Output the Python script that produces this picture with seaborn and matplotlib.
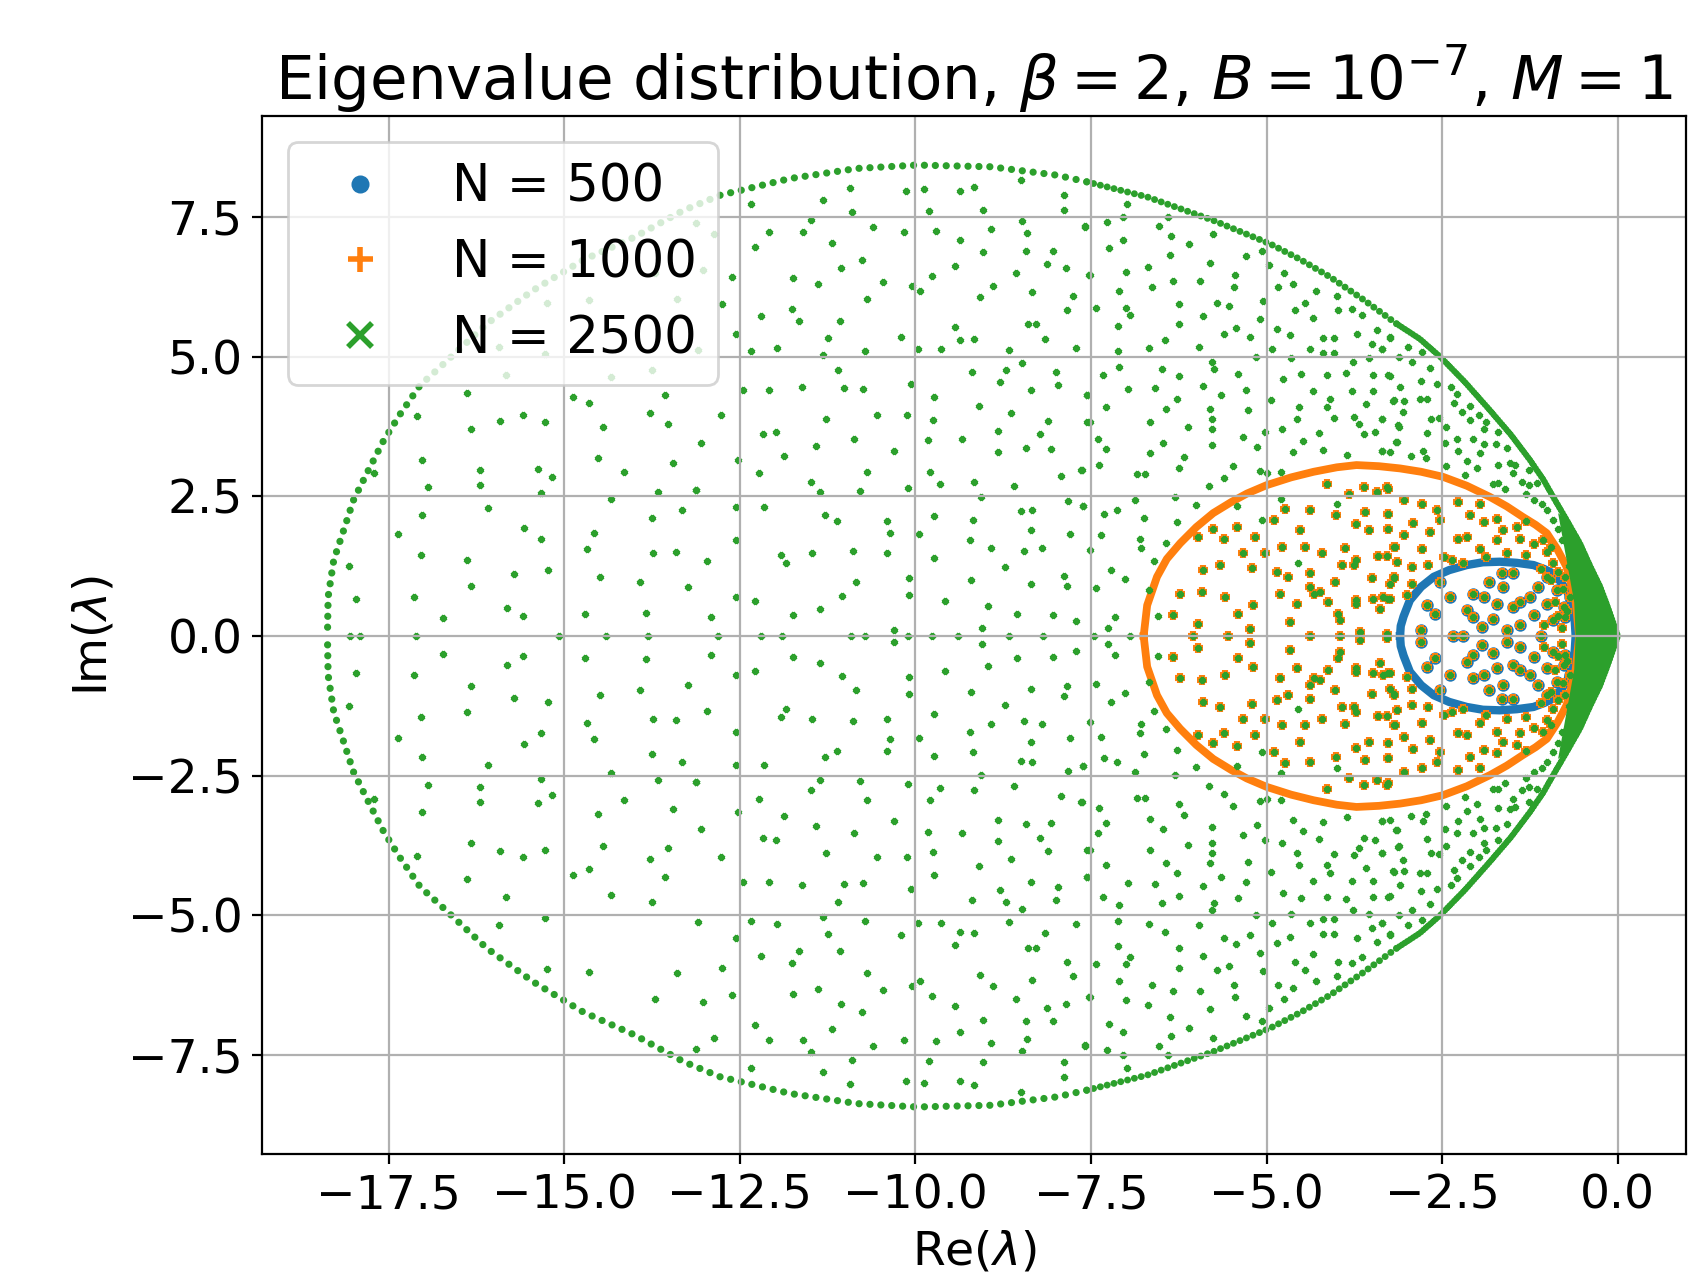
import numpy as np
import matplotlib
matplotlib.use("Agg")
import matplotlib.pyplot as plt
from matplotlib.lines import Line2D
import seaborn as sns

BLUE, ORANGE, GREEN = "#1f77b4", "#ff7f0e", "#2ca02c"

# Eigenvalues, upper half plane only (Im > 0);
# the spectrum is symmetric, the lower half is the complex conjugate.

# outer rim of N = 2500, split by how tightly packed the eigenvalues are
green_rim_far_re = [-7.56, -7.99, -8.93, -9.98, -10.83, -11.78, -12.78,
                    -13.30, -14.00, -14.73, -15.44, -16.10, -16.76, -17.05, -17.33, -17.57,
                    -17.81, -18.00, -18.14, -18.28, -18.36, -18.37]
green_rim_far_im = [8.13, 8.25, 8.40, 8.43, 8.37, 8.19, 7.89,
                    7.62, 7.14, 6.73, 6.19, 5.59, 4.82, 4.49, 3.98, 3.50,
                    2.91, 2.43, 1.89, 1.36, 0.70, 0.0]
green_rim_mid_re = [-3.15, -3.62, -4.10, -4.52, -4.95, -5.76, -6.70, -7.56]
green_rim_mid_im = [5.59, 6.02, 6.43, 6.74, 7.02, 7.44, 7.86, 8.13]
green_rim_near_re = [-3.15, -2.82, -2.53, -2.18, -1.82, -1.52,
                     -1.25, -1.06, -0.92, -0.73, -0.54, -0.40, -0.25, -0.12, 0.0]
green_rim_near_im = [5.59, 5.32, 5.00, 4.55, 4.04, 3.60,
                     3.15, 2.80, 2.49, 2.08, 1.66, 1.27, 0.88, 0.44, 0.0]
# solid cluster next to the origin
wedge_outer_re = [-0.85, -0.73, -0.54, -0.25, 0.0]
wedge_outer_im = [2.20, 2.08, 1.66, 0.88, 0.0]
wedge_inner_re = [-0.85, -0.72, -0.62, -0.60]
wedge_inner_im = [2.20, 1.30, 0.60, 0.0]

orange_rim_re = [-6.75, -6.70, -6.56, -6.42, -6.23, -6.00, -5.76, -5.50, -5.28, -5.00,
                 -4.65, -4.33, -4.00, -3.72, -3.40, -3.10, -2.80, -2.49, -2.15, -1.82,
                 -1.58, -1.35, -1.17, -1.01, -0.86, -0.73, -0.60, -0.55]
orange_rim_im = [0.0, 0.55, 1.06, 1.38, 1.66, 1.95, 2.20, 2.40, 2.55, 2.70,
                 2.84, 2.94, 3.02, 3.06, 3.04, 3.00, 2.94, 2.85, 2.69, 2.49,
                 2.32, 2.13, 1.99, 1.84, 1.55, 1.24, 0.60, 0.0]

blue_rim_re = [-3.10, -3.09, -3.05, -2.96, -2.80, -2.62, -2.40, -2.15, -1.92, -1.68,
               -1.44, -1.20, -1.05, -0.92, -0.82, -0.73, -0.66, -0.62, -0.60]
blue_rim_im = [0.0, 0.18, 0.35, 0.64, 0.88, 1.06, 1.18, 1.27, 1.32, 1.33,
               1.31, 1.27, 1.20, 1.12, 0.98, 0.82, 0.62, 0.40, 0.0]

# interior eigenvalues only present for N = 2500
green_re = [
    -16.38, -17.09, -16.33, -15.92, -15.59, -15.27, -14.88, -14.64, -14.45, -13.78, -13.56, -13.52,
    -17.03, -16.20, -15.37, -15.17, -16.94, -16.20, -15.33, -14.52, -14.15, -13.45, -13.67, -13.12,
    -14.33, -16.08, -17.03, -17.36, -15.57, -15.33, -14.58, -14.67, -13.75, -13.32, -17.04, -16.39,
    -15.72, -15.23, -18.06, -14.49, -13.74, -13.41, -16.33, -13.92, -13.24, -17.96, -17.14, -16.73,
    -15.81, -15.59, -14.71, -13.84, -15.24, -14.65, -13.40, -13.10, -13.75, -14.34, -15.83, -15.27,
    -12.87, -13.13, -13.70, -13.03, -15.93, -17.70,
    -12.34, -11.31, -10.93, -10.90, -10.13, -9.88, -9.81, -9.36, -9.17, -9.04, -8.49, -7.88, -7.89,
    -11.49, -12.08, -11.60, -10.60, -10.16, -9.71, -8.92, -8.48, -8.41, -7.59, -12.28, -11.18, -9.36,
    -9.04, -8.43, -8.04, -10.76, -11.06, -9.43, -8.13, -7.86, -12.61, -11.74, -11.38, -10.46, -10.05,
    -9.94, -9.76, -8.57, -8.89, -9.08, -8.34, -7.76, -7.84, -7.53, -12.75, -12.20, -11.75, -11.66,
    -11.08, -10.69, -11.24, -10.21, -9.43, -9.36, -9.16, -8.39, -8.28, -8.15, -7.72, -12.56, -12.34,
    -11.97, -11.32, -10.71, -9.96, -9.63, -8.67, -11.10, -12.45, -12.08, -11.62, -11.01, -10.75,
    -10.06, -9.20, -8.71, -8.48, -8.80, -8.00, -7.97, -8.36, -7.56, -9.74, -12.76, -11.27, -10.54,
    -10.12, -9.75, -9.09, -8.64, -8.11, -7.56, -13.05, -12.17, -11.98, -11.42, -10.88, -10.31, -9.82,
    -9.34, -8.82, -8.82, -8.23, -8.43, -8.07, -11.87, -12.53, -12.22, -11.48, -11.36, -10.79, -10.69,
    -10.11, -9.79, -9.65, -9.17, -8.60, -7.92, -7.64, -13.12, -9.06, -12.55, -12.15, -11.28, -11.12,
    -10.40, -10.36, -9.95, -9.73, -9.18, -8.49, -8.34, -7.83, -7.62, -8.36, -7.80, -12.56, -12.97,
    -11.91, -11.84, -11.47, -10.89, -10.41, -9.74, -9.22, -8.93, -8.46, -8.20, -8.73, -10.85, -10.09,
    -9.21, -8.36, -7.88, -7.84, -12.56, -12.28, -11.74, -11.36, -11.04, -10.09, -9.58, -8.97, -8.56,
    -8.04, -7.72, -12.91, -10.30, -9.05,
    -6.98, -7.04, -7.58, -7.27, -6.40, -6.53, -6.36, -7.05, -7.24, -6.11, -5.76, -6.37, -5.30, -5.06,
    -4.97, -5.80, -6.69, -7.51, -7.00, -6.33, -5.95, -5.45, -5.46, -4.75, -4.62, -4.84, -4.30, -4.00,
    -6.63, -7.10, -7.43, -7.00, -6.94, -6.25, -5.71, -5.53, -5.05, -4.45, -4.60, -3.98, -3.79, -3.64,
    -4.34, -5.90, -5.09, -7.11, -6.25, -5.43, -5.61, -5.24, -4.85, -4.66, -4.19, -4.04, -3.71, -3.43,
    -3.25, -3.50, -3.36, -6.45, -6.67, -7.11, -5.96, -4.92, -4.38, -4.20, -4.04, -5.15, -4.65, -3.54,
    -5.78, -5.75, -6.49, -7.10, -7.33, -6.24, -5.40, -4.77, -4.51, -4.14, -3.87, -3.77, -3.48, -3.25,
    -6.97, -6.59, -5.90, -5.30, -5.65, -6.28, -4.94, -4.34, -4.09, -3.79, -3.48, -3.20, -3.58, -4.14,
    -4.54, -7.55, -7.28, -6.43, -5.80, -5.77, -5.26, -4.56, -4.04, -3.75, -3.36, -3.68, -7.51, -6.66,
    -6.12, -5.78, -4.78, -4.25, -3.62, -3.46, -3.13, -5.02, -7.40, -7.29, -6.48, -5.78, -5.33, -5.13,
    -4.48, -4.62, -4.19, -3.86, -3.35, -3.24, -3.16, -6.66, -6.17, -6.25, -5.48, -7.38, -7.63, -6.85,
    -6.73, -5.60, -5.10, -4.99, -4.80, -5.82, -6.30, -6.87, -6.00, -7.61, -7.32, -7.13, -6.74, -6.28,
    -7.36, -6.80, -6.79, -6.43, -6.60, -7.51, -7.22, -7.01, -7.43, -6.67, -6.55, -7.16, -7.26,
    -5.42, -5.07, -4.79, -4.00, -4.55,
    -3.24, -3.36, -2.98, -2.79, -3.12, -2.93, -2.67, -3.27, -2.80, -2.57, -3.10, -2.38, -2.29, -3.19,
    -3.04, -2.82, -2.71, -2.33, -2.10, -3.06, -2.22, -1.98, -3.36, -2.66, -2.55, -2.10, -1.88, -3.11,
    -2.44, -1.91, -2.71, -1.70, -2.29, -2.06, -2.46, -3.15, -1.91, -1.73, -3.35, -2.77, -2.27, -1.96,
    -1.58, -2.95, -2.73, -2.14, -1.71, -1.53, -1.46, -2.44, -2.00, -1.49, -1.27, -2.17, -1.77, -1.70,
    -1.61, -1.37, -1.27, -1.15, -1.30, -1.20, -1.08, -1.01, -0.92, -0.85, -0.80,
]
green_im = [
    4.35, 3.94, 3.70, 3.84, 3.95, 3.83, 4.27, 4.17, 3.75, 3.99, 4.31, 3.79,
    3.15, 2.97, 2.99, 2.84, 2.66, 2.70, 2.56, 3.19, 2.94, 3.10, 2.57, 2.62,
    2.45, 2.30, 2.16, 1.83, 1.93, 1.74, 1.85, 1.56, 2.11, 2.26, 1.45, 1.36,
    1.11, 1.18, 1.25, 1.06, 1.48, 1.51, 0.90, 0.96, 0.88, 0.67, 0.69, 0.33,
    0.51, 0.35, 0.40, 0.41, 5.96, 6.02, 6.04, 5.12, 4.77, 4.64, 4.67, 5.04,
    7.20, 7.39, 6.49, 6.56, 5.18, 2.92,
    7.74, 7.81, 8.02, 7.59, 7.97, 8.00, 7.60, 7.96, 8.04, 7.63, 8.16, 7.89, 7.62,
    7.44, 7.23, 7.23, 7.33, 7.23, 7.25, 7.29, 7.43, 7.22, 7.34, 6.97, 7.03, 7.08,
    6.88, 6.90, 6.89, 6.73, 6.59, 6.63, 6.66, 6.59, 6.43, 6.40, 6.31, 6.34, 6.26,
    6.18, 6.44, 6.49, 6.26, 6.07, 6.15, 6.08, 5.84, 6.47, 5.94, 5.72, 5.85, 5.63,
    5.63, 6.03, 5.33, 5.35, 5.53, 5.30, 5.32, 5.59, 5.58, 5.32, 5.16, 5.40, 5.10,
    5.15, 5.03, 5.10, 5.14, 5.14, 5.12, 4.76, 4.40, 4.40, 4.45, 4.44, 4.43,
    4.52, 4.73, 4.77, 4.89, 4.55, 4.72, 4.50, 4.40, 4.32, 4.27, 3.96, 3.89, 3.95,
    3.95, 3.87, 4.11, 3.99, 3.85, 3.83, 3.46, 3.62, 3.65, 3.40, 3.52, 3.32, 3.51,
    3.53, 3.67, 3.30, 3.62, 3.36, 3.34, 3.23, 3.15, 2.91, 2.75, 2.57, 2.59, 2.94,
    2.65, 2.94, 2.72, 2.75, 2.68, 2.87, 2.97, 2.61, 2.49, 2.31, 2.31, 2.16, 2.05,
    2.05, 1.85, 1.82, 2.14, 2.07, 2.23, 2.26, 2.42, 2.32, 1.89, 1.83, 1.71, 1.35,
    1.45, 1.30, 1.49, 1.52, 1.48, 1.40, 1.71, 1.58, 1.52, 1.58, 1.23, 0.97, 1.04,
    1.00, 0.94, 1.08, 0.89, 0.70, 0.63, 0.38, 0.48, 0.71, 0.74, 0.63, 0.53, 0.40,
    0.38, 0.26, 0.34, 0.10, 0.15,
    7.73, 7.50, 7.32, 7.41, 7.50, 7.34, 7.16, 7.08, 6.95, 7.01, 7.20, 6.82, 6.80, 6.89,
    6.65, 6.67, 6.61, 6.47, 6.51, 6.36, 6.36, 6.47, 6.25, 6.49, 6.30, 6.25, 6.18, 6.08,
    6.24, 6.18, 5.87, 5.87, 5.75, 5.95, 5.97, 5.90, 6.00, 5.97, 5.83, 5.83, 5.85, 5.75,
    5.69, 5.72, 5.67, 5.55, 5.59, 5.52, 5.40, 5.35, 5.49, 5.39, 5.34, 5.34, 5.41, 5.47,
    5.34, 5.22, 5.14, 5.30, 5.15, 5.10, 5.17, 5.13, 5.14, 5.07, 5.06, 4.99, 4.97, 4.98,
    4.90, 4.78, 4.78, 4.81, 4.67, 4.66, 4.69, 4.60, 4.69, 4.67, 4.70, 4.90, 4.68, 4.66,
    4.42, 4.44, 4.48, 4.41, 4.32, 4.24, 4.23, 4.38, 4.24, 4.39, 4.38, 4.21, 4.15, 4.10,
    4.10, 4.32, 4.10, 4.06, 4.07, 3.89, 4.04, 3.89, 3.91, 3.92, 3.89, 3.79, 3.83, 3.83,
    3.74, 3.70, 3.71, 3.64, 3.62, 3.65, 3.77, 3.65, 3.52, 3.35, 3.46, 3.42, 3.57, 3.39,
    3.49, 3.29, 3.33, 3.24, 3.32, 3.30, 3.48, 3.28, 3.21, 3.00, 3.05, 3.07, 2.97, 2.90,
    2.90, 2.83, 2.96, 2.91, 2.93, 2.68, 2.49, 2.43, 2.34, 2.32, 2.19, 2.26, 2.11, 2.04,
    1.80, 1.73, 1.58, 1.67, 1.35, 1.54, 1.19, 1.02, 0.86, 0.83, 0.36, 0.34, 0.14,
    2.33, 2.07, 2.46, 2.37, 1.30,
    5.35, 5.14, 5.17, 5.08, 4.99, 4.91, 4.79, 4.67, 4.56, 4.52, 4.46, 4.45, 4.34, 4.22,
    4.21, 4.24, 4.24, 4.18, 4.11, 4.01, 4.01, 3.95, 3.89, 3.88, 3.91, 3.87, 3.83, 3.75,
    3.75, 3.71, 3.63, 3.65, 3.52, 3.52, 3.46, 3.47, 3.44, 3.44, 3.32, 3.32, 3.31, 3.28,
    3.36, 3.22, 3.18, 3.13, 3.07, 3.09, 3.06, 3.04, 3.01, 2.91, 2.97, 2.88, 2.73, 2.74,
    2.64, 2.76, 2.70, 2.74, 2.55, 2.43, 2.37, 2.25, 2.07, 1.92, 1.71,
]

# interior eigenvalues shared by N = 1000 and N = 2500
shared_re = [
    -5.97, -5.76, -5.61, -5.42, -5.16, -5.02, -5.33, -5.21, -4.90, -4.74, -4.78, -4.52, -4.45, -4.38,
    -4.21, -4.01, -3.88, -3.93, -3.72, -3.72, -3.60, -3.54, -3.41, -3.27, -3.27, -3.19, -3.19, -3.83,
    -3.61, -3.43, -3.27, -4.14, -4.85, -4.69, -5.90, -5.66, -6.23, -5.92, -5.59, -5.40, -5.19, -4.81,
    -4.57, -4.38, -4.24, -4.12, -3.72, -3.48, -3.38, -3.27, -4.67, -3.95, -5.97, -5.23, -6.33,
    -3.29, -3.05, -2.79, -2.58, -2.27, -1.96, -3.27, -2.91, -2.67, -2.53, -2.10, -1.91, -1.72, -1.63,
    -1.44, -1.30, -3.05, -2.27, -2.15, -1.96, -1.72, -1.39, -1.20, -1.06, -3.29, -3.17, -2.79, -2.48,
    -2.70, -2.93, -2.36, -2.20, -1.87, -1.58, -1.30, -1.01, -0.92, -3.19, -2.93, -3.24, -3.00,
    -3.67, -3.29, -4.33, -3.98, -3.72, -3.34, -3.50, -3.24, -4.38, -4.02, -3.76, -3.15,
    -0.95, -0.85, -0.90, -0.80, -1.05, -1.10, -0.95, -0.75, -0.72, -0.70, -0.78, -0.85, -0.68,
]
shared_im = [
    1.77, 1.92, 1.74, 1.96, 1.77, 1.48, 1.48, 1.21, 2.07, 2.28, 1.60, 1.89, 1.60, 2.25,
    1.48, 2.16, 1.57, 1.27, 2.01, 1.36, 2.22, 1.89, 1.44, 2.19, 1.92, 1.60, 1.03, 2.55,
    2.66, 2.58, 2.64, 2.73, 1.15, 1.06, 1.18, 1.27, 0.76, 0.79, 0.70, 0.40, 0.55, 0.76,
    0.57, 0.88, 0.79, 0.61, 0.64, 0.67, 0.49, 0.67, 0.25, 0.28, 0.22, 0.13, 0.37,
    2.67, 2.43, 2.36, 2.25, 2.40, 2.36, 2.19, 2.02, 1.86, 2.07, 2.16, 2.04, 2.10, 1.89,
    1.95, 2.05, 1.80, 1.74, 1.77, 1.56, 1.71, 1.74, 1.65, 1.71, 1.44, 1.59, 1.55, 1.42,
    1.27, 1.24, 1.36, 1.30, 1.42, 1.48, 1.45, 1.51, 1.30, 1.06, 0.94, 0.67, 0.73,
    0.07, 0.04, 0.76, 0.40, 0.58, 0.70, 1.03, 0.94, 1.12, 0.97, 1.27, 1.33,
    1.00, 1.15, 0.60, 0.15, 0.20, 1.20, 1.60, 1.05, 0.45, 1.25, 0.85, 0.35, 1.60,
]

# interior eigenvalues shared by all three sizes
blue_re = [-2.80, -2.72, -2.60, -2.39, -2.15, -2.06, -1.91, -1.94, -1.84, -1.72, -1.77, -1.65,
           -1.63, -1.49, -1.49, -1.58, -1.39, -1.39, -1.25, -1.20, -1.13, -1.01, -1.01, -0.92,
           -0.87, -0.77, -0.75, -0.68, -2.06, -2.53]
blue_im = [0.10, 0.55, 0.40, 0.70, 0.46, 0.34, 0.70, 0.16, 0.97, 0.58, 0.31, 1.12,
           0.88, 1.12, 0.52, 0.10, 0.61, 0.19, 0.70, 0.37, 0.88, 1.06, 0.58, 0.28,
           0.82, 0.52, 0.34, 0.70, 0.76, 0.97]

# purely real eigenvalues
green_axis_re = [-18.05, -17.90, -17.11, -15.08, -14.41, -13.81, -12.81, -12.20, -11.90, -10.91,
                 -10.72, -10.10, -9.76, -9.40, -8.67, -8.19, -7.45, -6.95]
shared_axis_re = [-6.05, -5.55, -4.38, -3.95]
blue_axis_re = [-2.34, -2.20, -1.10]

labels = ["N = 500", "N = 1000", "N = 2500"]


def conj(re, im):
    re, im = np.asarray(re, float), np.asarray(im, float)
    return np.concatenate([re, re]), np.concatenate([im, -im])


def closed(re, im):
    # upper half as given, then back along the mirrored lower half
    re, im = np.asarray(re, float), np.asarray(im, float)
    return np.concatenate([re, re[::-1]]), np.concatenate([im, -im[::-1]])


def with_axis(re, im, axis_re):
    return (np.concatenate([re, axis_re]),
            np.concatenate([im, np.zeros(len(axis_re))]))


def rim(ax, re, im, **kw):
    # the upper arc and its mirror image, as two separate lines
    for sign in (1, -1):
        sns.lineplot(x=re, y=sign * np.asarray(im, float), sort=False, estimator=None,
                     ax=ax, **kw)


b_re, b_im = with_axis(*conj(blue_re, blue_im), blue_axis_re)
s_re, s_im = with_axis(*conj(shared_re, shared_im), shared_axis_re)
g_re, g_im = with_axis(*conj(green_re, green_im), green_axis_re)

orange_re = np.concatenate([b_re, s_re])
orange_im = np.concatenate([b_im, s_im])
green_all_re = np.concatenate([b_re, s_re, g_re])
green_all_im = np.concatenate([b_im, s_im, g_im])

fig = plt.figure(figsize=(1691 / 200, 1287 / 200), dpi=200)
ax = fig.add_axes([0.155, 0.103, 0.842, 0.8065])

# N = 500
x, y = closed(blue_rim_re, blue_rim_im)
sns.lineplot(x=x, y=y, sort=False, estimator=None, color=BLUE, linewidth=3.0,
             zorder=1.0, ax=ax)
sns.scatterplot(x=b_re, y=b_im, marker="o", s=20, color=BLUE, linewidth=0,
                zorder=1.0, legend=False, ax=ax)

# N = 1000
x, y = closed(orange_rim_re, orange_rim_im)
sns.lineplot(x=x, y=y, sort=False, estimator=None, color=ORANGE, linewidth=2.8,
             zorder=1.1, ax=ax)
sns.scatterplot(x=orange_re, y=orange_im, marker="+", s=12, color=ORANGE, linewidth=2.2,
                zorder=1.1, legend=False, ax=ax)

# N = 2500
rim(ax, green_rim_far_re, green_rim_far_im, color=GREEN, linewidth=2.6,
    linestyle=(0, (0.01, 1.5)), dash_capstyle="round", zorder=1.2)
rim(ax, green_rim_mid_re, green_rim_mid_im, color=GREEN, linewidth=2.5,
    linestyle=(0, (0.01, 1.0)), dash_capstyle="round", zorder=1.2)
rim(ax, green_rim_near_re, green_rim_near_im, color=GREEN, linewidth=2.3,
    linestyle=(0, (0.01, 0.5)), dash_capstyle="round", zorder=1.2)
wx = np.concatenate([wedge_outer_re, wedge_outer_re[::-1], wedge_inner_re, wedge_inner_re[::-1]])
wy = np.concatenate([wedge_outer_im, -np.array(wedge_outer_im[::-1]),
                     -np.array(wedge_inner_im), wedge_inner_im[::-1]])
ax.fill(wx, wy, color=GREEN, linewidth=0, zorder=1.2)
sns.scatterplot(x=green_all_re, y=green_all_im, marker="x", s=3, color=GREEN, linewidth=1.6,
                zorder=1.2, legend=False, ax=ax)

ax.set_xlim(-19.30, 0.97)
ax.set_ylim(-9.28, 9.30)
ax.set_axisbelow("line")
ax.grid(True, color="#b0b0b0", linewidth=0.8)
ax.tick_params(labelsize=17)

ax.set_title(r"Eigenvalue distribution, $\beta = 2$, $B = 10^{-7}$, $M = 1$", fontsize=22)
ax.set_xlabel(r"Re($\lambda$)", fontsize=17)
ax.set_ylabel(r"Im($\lambda$)", fontsize=17)

handles = [
    Line2D([], [], marker="o", linestyle="", color=BLUE, markersize=5.5),
    Line2D([], [], marker="+", linestyle="", color=ORANGE, markersize=9, markeredgewidth=2.0),
    Line2D([], [], marker="x", linestyle="", color=GREEN, markersize=8.5, markeredgewidth=2.0),
]
ax.legend(handles, labels, loc="upper left", fontsize=18.5)

fig.savefig("out.png", dpi=200)
